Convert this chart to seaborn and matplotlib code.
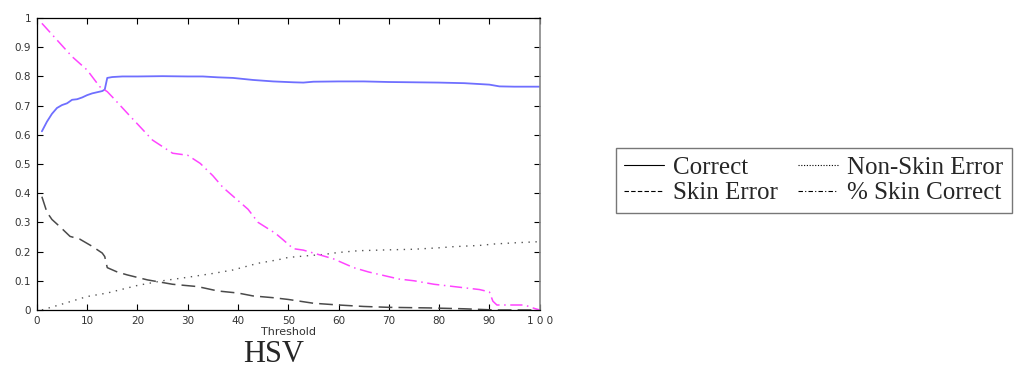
import numpy as np
import pandas as pd
import matplotlib
matplotlib.use("Agg")
import matplotlib.pyplot as plt
from matplotlib.lines import Line2D
import seaborn as sns

# ---- data ----
correct_x = [1, 2, 3, 4, 5, 6, 7, 8, 9, 10, 11, 12, 13, 13.5, 14, 15, 17, 20, 25, 30, 33, 36, 39, 43, 47, 51, 53, 55, 60, 65, 70, 75, 80, 85, 88, 90, 92, 95, 100]
correct_y = [0.612, 0.645, 0.672, 0.692, 0.702, 0.708, 0.72, 0.722, 0.728, 0.736, 0.742, 0.746, 0.75, 0.755, 0.795, 0.798, 0.80, 0.80, 0.801, 0.80, 0.80, 0.797, 0.795, 0.788, 0.783, 0.78, 0.779, 0.782, 0.783, 0.783, 0.781, 0.78, 0.779, 0.777, 0.774, 0.772, 0.766, 0.765, 0.765]

skinerr_x = [1, 2, 3, 4.6, 6.6, 8.5, 11, 13, 13.5, 14, 16, 18, 22, 27, 32, 36, 40, 43, 47, 50, 55, 60, 65, 70, 78, 85, 88, 91, 100]
skinerr_y = [0.388, 0.335, 0.31, 0.285, 0.252, 0.243, 0.218, 0.195, 0.183, 0.145, 0.13, 0.12, 0.103, 0.088, 0.08, 0.065, 0.058, 0.048, 0.042, 0.036, 0.023, 0.017, 0.012, 0.009, 0.007, 0.004, 0.002, 0.0, 0.0]

nonskin_x = [1, 5, 10, 14, 20, 25, 30, 35, 39, 44, 48, 50, 54, 57, 60, 64, 70, 75, 80, 83, 88, 91, 95, 100]
nonskin_y = [0.0, 0.02, 0.046, 0.058, 0.084, 0.1, 0.112, 0.125, 0.137, 0.16, 0.172, 0.18, 0.186, 0.19, 0.197, 0.203, 0.206, 0.208, 0.213, 0.217, 0.221, 0.226, 0.23, 0.234]

skincor_x = [1, 4, 7, 10, 12.5, 14, 15, 18, 20.5, 23, 27, 30, 32.5, 35, 37, 39, 42, 44, 47.5, 49, 51, 53, 56, 59, 61, 63, 66, 69, 72, 75, 79, 82, 85, 88, 90, 90.7, 91.5, 95, 97, 99, 100]
skincor_y = [0.982, 0.925, 0.868, 0.822, 0.765, 0.748, 0.73, 0.674, 0.628, 0.582, 0.537, 0.53, 0.502, 0.46, 0.42, 0.39, 0.345, 0.30, 0.262, 0.24, 0.21, 0.205, 0.19, 0.175, 0.16, 0.145, 0.13, 0.118, 0.106, 0.1, 0.088, 0.082, 0.076, 0.07, 0.062, 0.03, 0.017, 0.017, 0.017, 0.005, 0.0]

labels = ["Correct", "Skin Error", "Non-Skin Error", "% Skin Correct"]
x_ticks = [0, 10, 20, 30, 40, 50, 60, 70, 80, 90, 100]
x_ticklabels = ["0", "10", "20", "30", "40", "50", "60", "70", "80", "90", "1 0 0"]
y_ticks = [0, 0.1, 0.2, 0.3, 0.4, 0.5, 0.6, 0.7, 0.8, 0.9, 1]
y_ticklabels = ["0", "0.1", "0.2", "0.3", "0.4", "0.5", "0.6", "0.7", "0.8", "0.9", "1"]
title = "HSV"
xlabel = "Threshold"

sns.set_theme(style="white")
plt.rcParams["font.family"] = ["DejaVu Sans"]

fig = plt.figure(figsize=(10.24, 3.69), dpi=100)
ax = fig.add_axes([0.036, 0.160, 0.491, 0.791])

df_c = pd.DataFrame({"x": correct_x, "y": correct_y})
df_s = pd.DataFrame({"x": skinerr_x, "y": skinerr_y})
df_n = pd.DataFrame({"x": nonskin_x, "y": nonskin_y})
df_k = pd.DataFrame({"x": skincor_x, "y": skincor_y})

sns.lineplot(data=df_c, x="x", y="y", ax=ax, color="#6f6fff", lw=1.3, linestyle="-")
sns.lineplot(data=df_s, x="x", y="y", ax=ax, color="#4a4a4a", lw=1.1).lines[-1].set_dashes([9, 4])
sns.lineplot(data=df_n, x="x", y="y", ax=ax, color="#555555", lw=1.0).lines[-1].set_dashes([1, 4])
sns.lineplot(data=df_k, x="x", y="y", ax=ax, color="#ff44ff", lw=1.1).lines[-1].set_dashes([8, 3, 1, 3])

ax.set_xlim(0, 100)
ax.set_ylim(0, 1)
ax.set_xticks(x_ticks)
ax.set_xticklabels(x_ticklabels)
ax.set_yticks(y_ticks)
ax.set_yticklabels(y_ticklabels)
ax.tick_params(direction="in", length=4, width=0.8, color="black",
               top=True, right=True, bottom=True, left=True,
               labelsize=7.5, labelcolor="#333333", pad=4)
ax.set_xlabel(xlabel, fontsize=8, color="#333333", labelpad=1)
ax.set_ylabel("")
for side in ["left", "bottom", "top"]:
    ax.spines[side].set_color("black")
    ax.spines[side].set_linewidth(0.9)
ax.spines["right"].set_color("#888888")
ax.spines["right"].set_linewidth(1.2)

fig.text(0.267, 0.018, title, fontsize=22, family=["Liberation Serif"], ha="center", va="baseline")

h_c = Line2D([], [], color="black", lw=0.8, linestyle="-")
h_s = Line2D([], [], color="black", lw=0.8, dashes=[4, 2])
h_n = Line2D([], [], color="black", lw=0.8, dashes=[1, 1.5])
h_k = Line2D([], [], color="black", lw=0.8, dashes=[4, 2, 1, 2])
leg = fig.legend([h_c, h_s, h_n, h_k], labels, ncol=2,
                 loc="center", bbox_to_anchor=(0.7945, 0.511),
                 prop={"family": "Liberation Serif", "size": 18},
                 frameon=True, fancybox=False, edgecolor="#555555",
                 handlelength=1.6, handletextpad=0.35, columnspacing=0.8,
                 labelspacing=0.12, borderpad=0.35, borderaxespad=0)
leg.get_frame().set_linewidth(1.0)

fig.savefig("out.png", dpi=100)
